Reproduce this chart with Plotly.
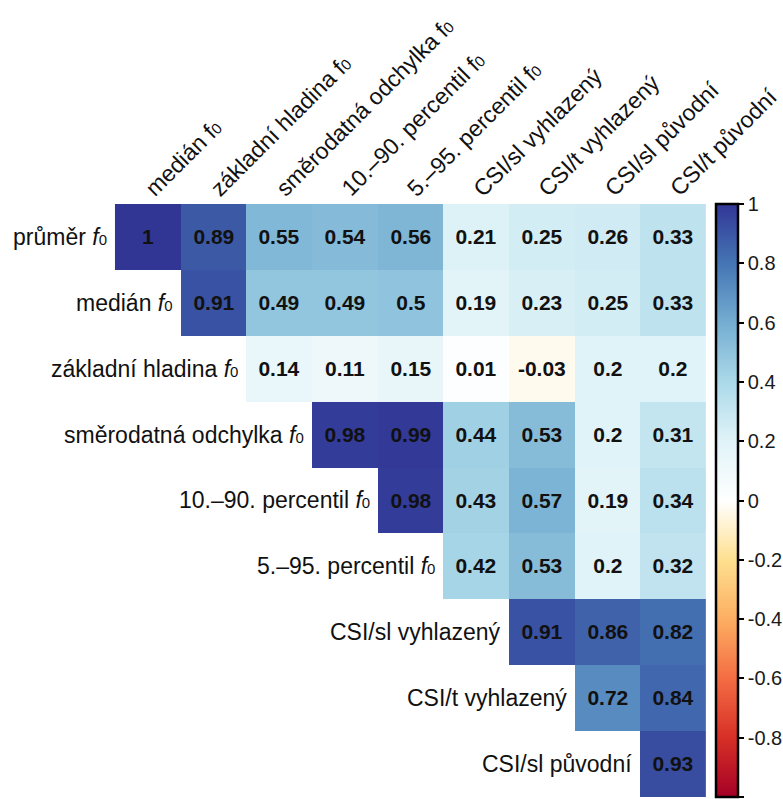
import plotly.graph_objects as go

# ---- data ----
SUB = "<span style='font-size:15px'>0</span>"
col_labels = ["medián f" + SUB,
              "základní hladina f" + SUB,
              "směrodatná odchylka f" + SUB,
              "10.–90. percentil f" + SUB,
              "5.–95. percentil f" + SUB,
              "CSI/sl vyhlazený", "CSI/t vyhlazený", "CSI/sl původní", "CSI/t původní"]
row_labels = ["průměr <i>f</i>" + SUB,
              "medián <i>f</i>" + SUB,
              "základní hladina <i>f</i>" + SUB,
              "směrodatná odchylka <i>f</i>" + SUB,
              "10.–90. percentil <i>f</i>" + SUB,
              "5.–95. percentil <i>f</i>" + SUB,
              "CSI/sl vyhlazený", "CSI/t vyhlazený", "CSI/sl původní"]

row0 = [1, 0.89, 0.55, 0.54, 0.56, 0.21, 0.25, 0.26, 0.33]
row1 = [0.91, 0.49, 0.49, 0.5, 0.19, 0.23, 0.25, 0.33]
row2 = [0.14, 0.11, 0.15, 0.01, -0.03, 0.2, 0.2]
row3 = [0.98, 0.99, 0.44, 0.53, 0.2, 0.31]
row4 = [0.98, 0.43, 0.57, 0.19, 0.34]
row5 = [0.42, 0.53, 0.2, 0.32]
row6 = [0.91, 0.86, 0.82]
row7 = [0.72, 0.84]
row8 = [0.93]
rows_vals = [row0, row1, row2, row3, row4, row5, row6, row7, row8]

tick_vals = [1, 0.8, 0.6, 0.4, 0.2, 0, -0.2, -0.4, -0.6, -0.8, -0.999]
tick_text = ["1", "0.8", "0.6", "0.4", "0.2", "0", "-0.2", "-0.4", "-0.6", "-0.8", "-1"]

palette = ['#A50026', '#D73027', '#F46D43', '#FDAE61', '#FEE090', '#FFFFFF',
           '#E0F3F8', '#ABD9E9', '#74ADD1', '#4575B4', '#313695']

# ---- build matrix ----
n = len(col_labels)
z = []
txt = []
for i, vals in enumerate(rows_vals):
    pad = n - len(vals)
    z.append([None] * pad + vals)
    txt.append([""] * pad + [f"{v:g}" for v in vals])

colorscale = [[k / (len(palette) - 1), c] for k, c in enumerate(palette)]

W, H = 783, 799
gx0, gx1, gy0, gy1 = 115, 707, 204, 797  # pixel frame of grid

FONT = "Arial, 'Liberation Sans', sans-serif"

fig = go.Figure(go.Heatmap(
    z=z, x=list(range(n)), y=list(range(n)),
    text=txt, texttemplate="%{text}",
    textfont=dict(family=FONT, size=21, color="#111111", weight="bold"),
    colorscale=colorscale, zmin=-1, zmax=1,
    hoverongaps=False,
    colorbar=dict(
        x=716 / W, xanchor="left", xpad=0, xref="paper",
        y=1 - gy1 / H, yanchor="bottom", ypad=0, len=(gy1 - gy0) / H, lenmode="fraction",
        thickness=22, outlinewidth=2.5, outlinecolor="black",
        tickmode="array", tickvals=tick_vals, ticktext=tick_text,
        ticks="outside", ticklen=5, tickwidth=2, tickcolor="black",
        tickfont=dict(family=FONT, size=20, color="#1a1a1a"),
    ),
))

annotations = []
for j, lab in enumerate(col_labels):
    annotations.append(dict(
        x=j, y=-0.5, xref="x", yref="y", text=lab, showarrow=False,
        textangle=-45, xanchor="left", yanchor="bottom",
        xshift=-11, yshift=0,
        font=dict(family=FONT, size=23, color="#111111")))
for i, lab in enumerate(row_labels):
    annotations.append(dict(
        x=i - 0.5, y=i, xref="x", yref="y", text=lab, showarrow=False,
        xanchor="right", yanchor="middle", xshift=-6,
        font=dict(family=FONT, size=23, color="#111111")))

fig.update_layout(
    width=W, height=H,
    margin=dict(l=0, r=0, t=0, b=0),
    paper_bgcolor="white", plot_bgcolor="white",
    xaxis=dict(domain=[gx0 / W, gx1 / W], range=[-0.5, n - 0.5],
               showticklabels=False, showgrid=False, zeroline=False),
    yaxis=dict(domain=[1 - gy1 / H, 1 - gy0 / H], range=[n - 0.5, -0.5],
               showticklabels=False, showgrid=False, zeroline=False),
    annotations=annotations,
    showlegend=False,
)

fig.write_html("out.html")
